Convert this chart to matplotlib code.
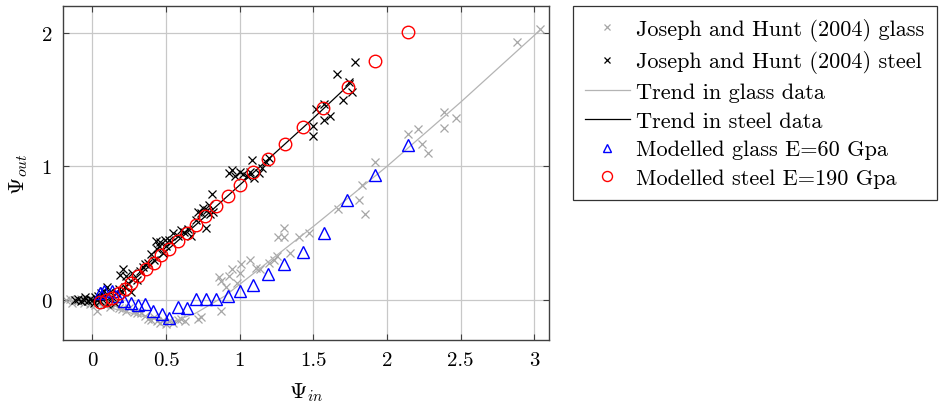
import matplotlib
matplotlib.use("Agg")
import matplotlib.pyplot as plt

plt.rcParams['font.family'] = ['cmr10', 'DejaVu Serif']
plt.rcParams['mathtext.fontset'] = 'cm'
plt.rcParams['axes.formatter.use_mathtext'] = True

# ---- data ----
glass_x = [-0.18, -0.15, -0.14, -0.12, -0.10, -0.08, -0.06, -0.04, -0.02, 0.00, 0.02, 0.03,
           0.05, 0.08, 0.12, 0.15, 0.18, 0.20, 0.23, 0.25, 0.28, 0.30, 0.33, 0.36, 0.38,
           0.40, 0.42, 0.44, 0.46, 0.48, 0.50, 0.52, 0.55, 0.58, 0.60, 0.63, 0.72, 0.74,
           0.875, 0.86, 0.87, 0.91, 0.93, 0.95, 0.98, 1.00, 1.01, 1.07, 1.11, 1.14, 1.20,
           1.23, 1.25, 1.26, 1.30, 1.30, 1.34, 1.40, 1.47, 1.67, 1.81, 1.83, 1.85, 1.92,
           2.14, 2.21, 2.24, 2.28, 2.39, 2.39, 2.47, 2.88, 3.04]
glass_y = [0.00, 0.01, -0.02, 0.00, -0.01, 0.01, -0.02, 0.00, -0.03, -0.01, -0.04, -0.08,
           -0.02, -0.03, -0.05, -0.04, -0.06, -0.07, -0.08, -0.06, -0.09, -0.10, -0.10,
           -0.12, -0.14, -0.15, -0.13, -0.16, -0.17, -0.15, -0.18, -0.16, -0.17, -0.15,
           -0.14, -0.16, -0.14, -0.13, -0.08, 0.17, 0.14, 0.10, 0.18, 0.23, 0.13, 0.20,
           0.27, 0.30, 0.24, 0.23, 0.28, 0.30, 0.33, 0.47, 0.54, 0.47, 0.35, 0.47, 0.50,
           0.68, 0.75, 0.86, 0.64, 1.03, 1.24, 1.28, 1.17, 1.10, 1.41, 1.29, 1.36, 1.93,
           2.03]

steel_x = [-0.12, -0.10, -0.08, -0.06, -0.05, -0.03, -0.02, 0.00, 0.01, 0.02, 0.03, 0.04,
           0.05, 0.06, 0.07, 0.08, 0.09, 0.10, 0.10, 0.12, 0.13, 0.15, 0.16, 0.18, 0.19,
           0.20, 0.21, 0.22, 0.23, 0.24, 0.26, 0.27, 0.30, 0.32, 0.34, 0.36, 0.38, 0.40,
           0.42, 0.43, 0.44, 0.45, 0.46, 0.48, 0.49, 0.50, 0.52, 0.53, 0.55, 0.58, 0.60,
           0.62, 0.65, 0.67, 0.70, 0.72, 0.74, 0.75, 0.77, 0.78, 0.79, 0.80, 0.81, 0.82,
           0.93, 0.95, 0.97, 1.00, 1.02, 1.05, 1.07, 1.08, 1.10, 1.13, 1.15, 1.18, 1.20,
           1.50, 1.50, 1.52, 1.57, 1.57, 1.61, 1.66, 1.70, 1.74, 1.76, 1.78]
steel_y = [0.00, 0.01, -0.01, 0.00, 0.02, -0.01, 0.01, 0.00, -0.02, 0.02, 0.00, 0.03,
           -0.01, 0.05, 0.02, 0.07, 0.04, -0.03, 0.10, 0.06, 0.02, -0.02, 0.05, 0.08, 0.19,
           0.06, 0.23, 0.10, 0.18, 0.13, 0.06, 0.20, 0.15, 0.22, 0.25, 0.27, 0.28, 0.34,
           0.30, 0.44, 0.38, 0.40, 0.43, 0.35, 0.45, 0.40, 0.45, 0.43, 0.50, 0.48, 0.52,
           0.51, 0.53, 0.48, 0.60, 0.66, 0.65, 0.69, 0.54, 0.67, 0.71, 0.64, 0.79, 0.66,
           0.95, 0.97, 0.93, 0.96, 0.94, 0.93, 0.96, 1.05, 0.91, 0.95, 0.99, 1.03, 1.06,
           1.30, 1.23, 1.43, 1.47, 1.35, 1.38, 1.69, 1.50, 1.63, 1.56, 1.78]

trend_glass_x = [-0.15, 0.0, 0.2, 0.4, 0.55, 0.7, 0.9, 1.2, 1.5, 2.0, 2.5, 3.05]
trend_glass_y = [0.0, -0.03, -0.08, -0.14, -0.16, -0.10, 0.03, 0.29, 0.55, 1.00, 1.48, 2.03]

trend_steel_x = [0.0, 0.1, 0.2, 0.3, 0.4, 0.5, 0.7, 1.0, 1.3, 1.5, 1.77]
trend_steel_y = [-0.01, 0.0, 0.07, 0.17, 0.265, 0.365, 0.56, 0.86, 1.16, 1.36, 1.64]

model_glass_x = [0.05, 0.08, 0.13, 0.17, 0.215, 0.26, 0.31, 0.36, 0.41, 0.47, 0.52, 0.58,
                 0.64, 0.70, 0.77, 0.84, 0.92, 1.00, 1.09, 1.19, 1.30, 1.43, 1.57, 1.73,
                 1.92, 2.14]
model_glass_y = [0.05, 0.07, 0.07, 0.03, -0.007, -0.02, -0.04, -0.027, -0.082, -0.102,
                 -0.132, -0.055, -0.062, 0.005, 0.007, 0.007, 0.032, 0.065, 0.115, 0.197,
                 0.269, 0.359, 0.504, 0.748, 0.935, 1.16]

model_steel_x = [0.05, 0.095, 0.136, 0.179, 0.219, 0.262, 0.312, 0.362, 0.416, 0.468,
                 0.522, 0.581, 0.642, 0.701, 0.767, 0.839, 0.918, 1.00, 1.092, 1.192,
                 1.305, 1.429, 1.567, 1.734, 1.92, 2.14]
model_steel_y = [-0.012, -0.002, 0.017, 0.05, 0.085, 0.13, 0.18, 0.229, 0.279, 0.334,
                 0.384, 0.444, 0.504, 0.564, 0.628, 0.701, 0.778, 0.863, 0.955, 1.052,
                 1.165, 1.292, 1.436, 1.596, 1.786, 2.007]

x_ticks = [0, 0.5, 1, 1.5, 2, 2.5, 3]
x_ticklabels = ['0', '0.5', '1', '1.5', '2', '2.5', '3']
y_ticks = [0, 1, 2]
y_ticklabels = ['0', '1', '2']

labels = ['Joseph and Hunt (2004) glass', 'Joseph and Hunt (2004) steel',
          'Trend in glass data', 'Trend in steel data',
          'Modelled glass E=60 Gpa', 'Modelled steel E=190 Gpa']

# ---- figure ----
fig = plt.figure(figsize=(9.43, 4.06), dpi=100)
ax = fig.add_axes([63/943, 1-341/406, (549-63)/943, (341-7)/406])

ax.grid(True, color='#c8c8c8', linewidth=0.9, zorder=0)
ax.set_axisbelow(True)

h1, = ax.plot(glass_x, glass_y, linestyle='none', marker='x', color='#a6a6a6',
              markersize=5.5, markeredgewidth=0.9, zorder=2)
h2, = ax.plot(steel_x, steel_y, linestyle='none', marker='x', color='black',
              markersize=5.5, markeredgewidth=0.9, zorder=3)
h3, = ax.plot(trend_glass_x, trend_glass_y, color='#b4b4b4', linewidth=0.9, zorder=2)
h4, = ax.plot(trend_steel_x, trend_steel_y, color='black', linewidth=0.9, zorder=3)
h5, = ax.plot(model_glass_x, model_glass_y, linestyle='none', marker='^', color='blue',
              markerfacecolor='none', markersize=8, markeredgewidth=1.0, zorder=4)
h6, = ax.plot(model_steel_x, model_steel_y, linestyle='none', marker='o', color='red',
              markerfacecolor='none', markersize=9, markeredgewidth=1.0, zorder=5)

ax.set_xlim(-0.2, 3.1)
ax.set_ylim(-0.3, 2.2)
ax.set_xticks(x_ticks)
ax.set_xticklabels(x_ticklabels)
ax.set_yticks(y_ticks)
ax.set_yticklabels(y_ticklabels)
ax.tick_params(direction='in', top=True, right=True, length=4, width=0.8,
               color='#404040', labelsize=15, pad=8)
for s in ax.spines.values():
    s.set_color('#404040')
    s.set_linewidth(1.0)

ax.set_xlabel(r'$\Psi_{in}$', fontsize=16, labelpad=8)
ax.set_ylabel(r'$\Psi_{out}$', fontsize=16, labelpad=8)

leg = fig.legend([h1, h2, h3, h4, h5, h6], labels,
                 loc='upper left', bbox_to_anchor=(573/943, 1-7/406),
                 borderaxespad=0, fontsize=16, frameon=True, fancybox=False,
                 edgecolor='black', labelspacing=0.41, handlelength=2.0,
                 handletextpad=0.3, borderpad=0.55, markerscale=0.8)
leg.get_frame().set_linewidth(0.9)

fig.savefig('out.png', dpi=100)
